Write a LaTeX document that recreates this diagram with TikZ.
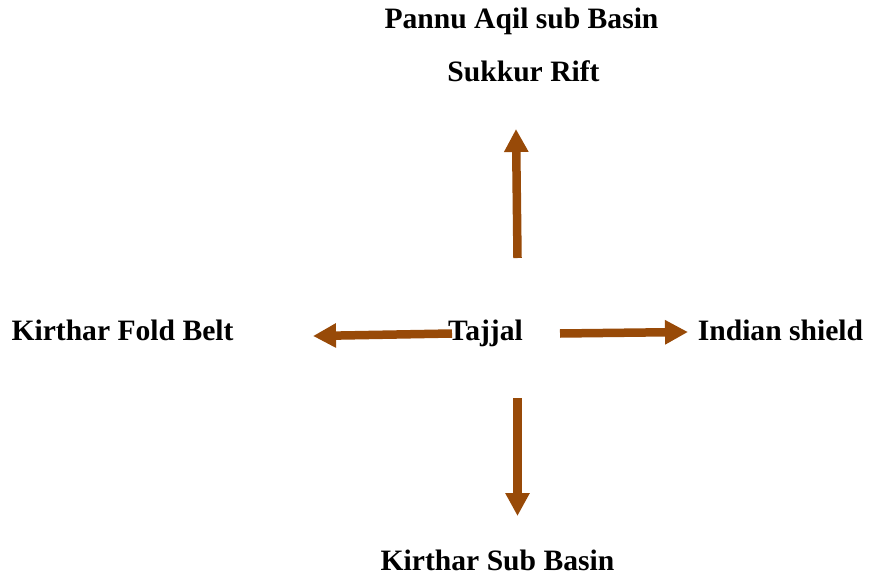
\documentclass[tikz,border=0pt]{standalone}
\usepackage{fontspec}
\setmainfont{Liberation Serif}
\usetikzlibrary{arrows.meta}
\definecolor{arrbrown}{RGB}{152,74,8}
\tikzset{
  lbl/.style={anchor=base, inner sep=0pt, font=\fontsize{29.6}{34}\selectfont\bfseries},
  arr/.style={draw=arrbrown, line width=8.5pt, -{Triangle[length=23pt,width=23pt]}}
}
\begin{document}
\begin{tikzpicture}[x=1pt,y=-1pt]
\useasboundingbox (0,0) rectangle (869,580);
\node[lbl] (pannu) at (521.5,29) {Pannu Aqil sub Basin};
\node[lbl] (sukkur) at (523.5,82) {Sukkur Rift};
\node[lbl] (kfb) at (122.5,340.5) {Kirthar Fold Belt};
\node[lbl] (tajjal) at (485.5,340.5) {Tajjal};
\node[lbl] (indian) at (780.5,340) {Indian shield};
\node[lbl] (ksb) at (497.5,570) {Kirthar Sub Basin};
\coordinate (upS) at (517.5,258);
\coordinate (upE) at (516,129);
\coordinate (dnS) at (517.5,398);
\coordinate (dnE) at (517.5,516);
\coordinate (lfS) at (452,333.5);
\coordinate (lfE) at (313,336);
\coordinate (rtS) at (560,333.5);
\coordinate (rtE) at (688,332);
\draw[arr] (upS) -- (upE);
\draw[arr] (dnS) -- (dnE);
\draw[arr] (lfS) -- (lfE);
\draw[arr] (rtS) -- (rtE);
\end{tikzpicture}
\end{document}
